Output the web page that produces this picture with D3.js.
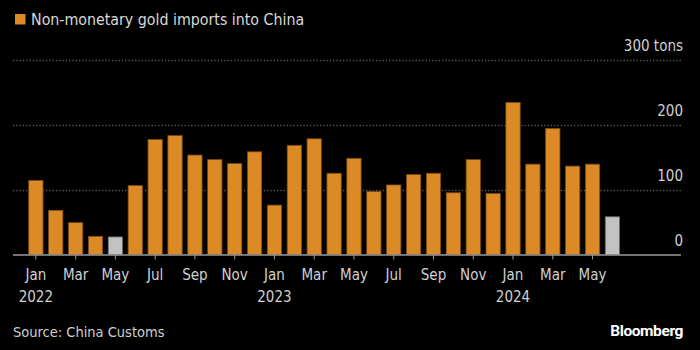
<!DOCTYPE html>
<html>
<head>
<meta charset="utf-8">
<script src="https://cdn.jsdelivr.net/npm/d3@7"></script>
<style>
  body { margin: 0; background: #000; }
  svg { display: block; }
  text { font-family: "Liberation Sans Narrow", "DejaVu Sans Condensed", "DejaVu Sans", sans-serif; font-stretch: condensed; }
</style>
</head>
<body>
<svg id="chart" width="700" height="350"></svg>
<script>
// monthly imports, tons (Jan 2022 - Jun 2024)
const months = [
  "2022-01","2022-02","2022-03","2022-04","2022-05","2022-06",
  "2022-07","2022-08","2022-09","2022-10","2022-11","2022-12",
  "2023-01","2023-02","2023-03","2023-04","2023-05","2023-06",
  "2023-07","2023-08","2023-09","2023-10","2023-11","2023-12",
  "2024-01","2024-02","2024-03","2024-04","2024-05","2024-06"
];
const imports = [
  114, 68, 49, 28, 27, 106,
  177, 183, 153, 146, 140, 158,
  76, 168, 178, 125, 148, 97,
  107, 123, 125, 95, 146, 94,
  234, 139, 194, 136, 139, 58
];
const grayMonths = ["2022-05", "2024-06"];
const yTicks = [0, 100, 200, 300];
const monthNames = ["Jan","Feb","Mar","Apr","May","Jun","Jul","Aug","Sep","Oct","Nov","Dec"];

const svg = d3.select("#chart");
const width = 700;
const left = 13, right = 683;
const base = 254.5;

svg.append("rect").attr("width", width).attr("height", 350).attr("fill", "#000");

const x = d3.scaleBand()
  .domain(months)
  .range([left, 635.3])
  .paddingInner(0.28)
  .paddingOuter(0.79);

const y = d3.scaleLinear().domain([0, 300]).range([base, 59.5]);

// gridlines
svg.append("g")
  .selectAll("line")
  .data(yTicks.filter(d => d > 0))
  .join("line")
  .attr("x1", left).attr("x2", right - 2)
  .attr("y1", d => Math.round(y(d)) + 0.5).attr("y2", d => Math.round(y(d)) + 0.5)
  .attr("stroke", "#5a5a5a")
  .attr("stroke-width", 1.3)
  .attr("stroke-dasharray", "1.3,2");

// y labels on the right, above gridlines
svg.append("g")
  .selectAll("text")
  .data(yTicks)
  .join("text")
  .attr("x", right)
  .attr("y", d => y(d) - 9)
  .attr("text-anchor", "end")
  .attr("fill", "#d0d0d0")
  .style("font-size", "15px")
  .text(d => d === 300 ? "300 tons" : d);

// bars
svg.append("g")
  .selectAll("rect")
  .data(months)
  .join("rect")
  .attr("x", d => x(d))
  .attr("y", (d, i) => y(imports[i]))
  .attr("width", x.bandwidth())
  .attr("height", (d, i) => base - y(imports[i]))
  .attr("fill", d => grayMonths.includes(d) ? "#c2c2c2" : "#dc8a25")
  .attr("stroke", d => grayMonths.includes(d) ? "#6a6a6a" : "#7a4a12")
  .attr("stroke-width", 0.8);

// x axis
const axis = svg.append("g");
axis.append("line")
  .attr("x1", left).attr("x2", right - 2)
  .attr("y1", base + 0.5).attr("y2", base + 0.5)
  .attr("stroke", "#9a9a9a")
  .attr("stroke-width", 1.5);

const tickMonths = months.filter((d, i) => i % 2 === 0);
axis.selectAll(".tick")
  .data(tickMonths)
  .join("line")
  .attr("class", "tick")
  .attr("x1", d => x(d) + x.bandwidth() / 2)
  .attr("x2", d => x(d) + x.bandwidth() / 2)
  .attr("y1", base).attr("y2", base + 5)
  .attr("stroke", "#9a9a9a");

axis.selectAll(".mlabel")
  .data(tickMonths)
  .join("text")
  .attr("class", "mlabel")
  .attr("x", d => x(d) + x.bandwidth() / 2)
  .attr("y", 280)
  .attr("text-anchor", "middle")
  .attr("fill", "#d0d0d0")
  .style("font-size", "15px")
  .text(d => monthNames[+d.slice(5) - 1]);

axis.selectAll(".ylabel")
  .data(months.filter(d => d.endsWith("-01")))
  .join("text")
  .attr("class", "ylabel")
  .attr("x", d => x(d) + x.bandwidth() / 2)
  .attr("y", 302)
  .attr("text-anchor", "middle")
  .attr("fill", "#d0d0d0")
  .style("font-size", "15px")
  .text(d => d.slice(0, 4));

// legend / title
svg.append("rect")
  .attr("x", 15).attr("y", 14)
  .attr("width", 10.5).attr("height", 10.5)
  .attr("fill", "#dc8a25");
svg.append("text")
  .attr("x", 31).attr("y", 25)
  .attr("fill", "#d8d8d8")
  .style("font-size", "15.8px")
  .text("Non-monetary gold imports into China");

// footer
svg.append("text")
  .attr("x", 13).attr("y", 337)
  .attr("fill", "#cfcfcf")
  .style("font-size", "14.5px")
  .text("Source: China Customs");
svg.append("text")
  .attr("x", right).attr("y", 336)
  .attr("text-anchor", "end")
  .attr("fill", "#fff")
  .style("font-family", "Roboto, 'DejaVu Sans', sans-serif")
  .style("font-stretch", "normal")
  .style("font-weight", "bold")
  .style("font-size", "15.5px")
  .style("letter-spacing", "-0.4px")
  .text("Bloomberg");
</script>
</body>
</html>
